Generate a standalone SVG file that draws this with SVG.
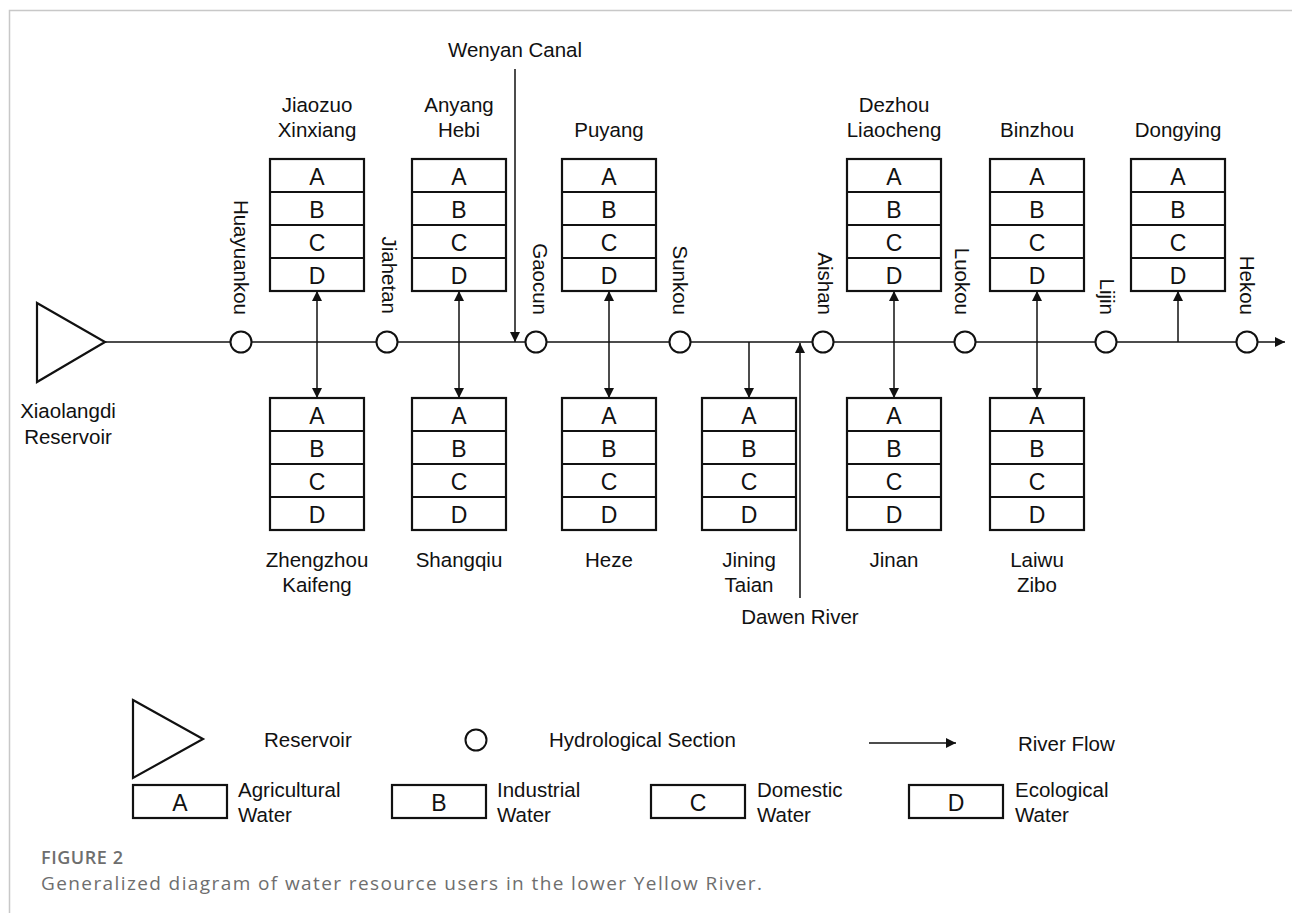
<svg xmlns="http://www.w3.org/2000/svg" width="1292" height="913" viewBox="0 0 1292 913">
  <style>
    .lbl { font-family: "Liberation Sans", Arial, sans-serif; font-size: 20.5px; fill: #111; }
    .mid { text-anchor: middle; }
    .end { text-anchor: end; }
    .cell { font-family: "Liberation Sans", Arial, sans-serif; font-size: 23px; fill: #111; text-anchor: middle; }
    .box { fill: #fff; stroke: #111; stroke-width: 2.2; }
    .div { stroke: #111; stroke-width: 2; }
    .sec { fill: #fff; stroke: #111; stroke-width: 2; }
    .flow { fill: none; stroke: #111; stroke-width: 1.5; }
    .res { fill: #fff; stroke: #111; stroke-width: 2.2; stroke-linejoin: miter; }
    .frame { stroke: #c8c8c8; stroke-width: 1.5; fill: none; }
    .cap { font-family: "Open Sans", "Noto Sans", sans-serif; fill: #6e6e6e; }
  </style>
  <defs>
    <marker id="head" viewBox="0 0 10 10" refX="10" refY="5" markerWidth="10" markerHeight="11" markerUnits="userSpaceOnUse" orient="auto-start-reverse">
      <path d="M0,0 L10,5 L0,10 z" fill="#111"/>
    </marker>
  </defs>

  <rect width="1292" height="913" fill="#fff"/>
  <!-- page frame -->
  <path class="frame" d="M9.5,913 V10.5 H1292"/>

  <!-- main river and tributary connectors -->
  <g id="connectors">
    <line class="flow" x1="105" y1="342" x2="1285" y2="342" marker-end="url(#head)"/>
    <!-- Wenyan Canal inflow -->
    <line class="flow" x1="515" y1="69" x2="515" y2="342" marker-end="url(#head)"/>
    <!-- Dawen River inflow -->
    <line class="flow" x1="800" y1="598" x2="800" y2="343" marker-end="url(#head)"/>
    <!-- two-way exchanges -->
    <line class="flow" x1="317" y1="291" x2="317" y2="398" marker-start="url(#head)" marker-end="url(#head)"/>
    <line class="flow" x1="459" y1="291" x2="459" y2="398" marker-start="url(#head)" marker-end="url(#head)"/>
    <line class="flow" x1="609" y1="291" x2="609" y2="398" marker-start="url(#head)" marker-end="url(#head)"/>
    <line class="flow" x1="894" y1="291" x2="894" y2="398" marker-start="url(#head)" marker-end="url(#head)"/>
    <line class="flow" x1="1037" y1="291" x2="1037" y2="398" marker-start="url(#head)" marker-end="url(#head)"/>
    <!-- one-way withdrawals -->
    <line class="flow" x1="749" y1="342" x2="749" y2="398" marker-end="url(#head)"/>
    <line class="flow" x1="1178" y1="342" x2="1178" y2="291" marker-end="url(#head)"/>
  </g>

  <!-- reservoir -->
  <g id="xiaolangdi">
    <path class="res" d="M37,303 L105,342 L37,382 Z"/>
    <text class="lbl mid" x="68" y="418">Xiaolangdi</text>
    <text class="lbl mid" x="68" y="444">Reservoir</text>
  </g>

  <!-- hydrological sections -->
  <g id="huayuankou"><circle class="sec" cx="241" cy="342" r="10.5"/><text class="lbl end" transform="translate(234,315) rotate(90)">Huayuankou</text></g>
  <g id="jiahetan"><circle class="sec" cx="387" cy="342" r="10.5"/><text class="lbl end" transform="translate(382,314) rotate(90)">Jiahetan</text></g>
  <g id="gaocun"><circle class="sec" cx="536" cy="342" r="10.5"/><text class="lbl end" transform="translate(533,315) rotate(90)">Gaocun</text></g>
  <g id="sunkou"><circle class="sec" cx="680" cy="342" r="10.5"/><text class="lbl end" transform="translate(673,315) rotate(90)">Sunkou</text></g>
  <g id="aishan"><circle class="sec" cx="823" cy="342" r="10.5"/><text class="lbl end" transform="translate(818,315) rotate(90)">Aishan</text></g>
  <g id="luokou"><circle class="sec" cx="965" cy="342" r="10.5"/><text class="lbl end" transform="translate(955,315) rotate(90)">Luokou</text></g>
  <g id="lijin"><circle class="sec" cx="1106" cy="342" r="10.5"/><text class="lbl end" transform="translate(1100,315) rotate(90)">Lijin</text></g>
  <g id="hekou"><circle class="sec" cx="1247" cy="342" r="10.5"/><text class="lbl end" transform="translate(1240,315) rotate(90)">Hekou</text></g>

  <!-- tributary labels -->
  <g id="wenyan-canal"><text class="lbl mid" x="515" y="57">Wenyan Canal</text></g>
  <g id="dawen-river"><text class="lbl mid" x="800" y="624">Dawen River</text></g>

  <!-- water users, north bank -->
  <g id="jiaozuo-xinxiang">
    <text class="lbl mid" x="317" y="112">Jiaozuo</text>
    <text class="lbl mid" x="317" y="137">Xinxiang</text>
    <rect class="box" x="270" y="159" width="94" height="132"/>
    <path class="div" d="M270,192H364M270,225H364M270,258H364"/>
    <text class="cell" x="317" y="185">A</text><text class="cell" x="317" y="218">B</text><text class="cell" x="317" y="251">C</text><text class="cell" x="317" y="284">D</text>
  </g>
  <g id="anyang-hebi">
    <text class="lbl mid" x="459" y="112">Anyang</text>
    <text class="lbl mid" x="459" y="137">Hebi</text>
    <rect class="box" x="412" y="159" width="94" height="132"/>
    <path class="div" d="M412,192H506M412,225H506M412,258H506"/>
    <text class="cell" x="459" y="185">A</text><text class="cell" x="459" y="218">B</text><text class="cell" x="459" y="251">C</text><text class="cell" x="459" y="284">D</text>
  </g>
  <g id="puyang">
    <text class="lbl mid" x="609" y="137">Puyang</text>
    <rect class="box" x="562" y="159" width="94" height="132"/>
    <path class="div" d="M562,192H656M562,225H656M562,258H656"/>
    <text class="cell" x="609" y="185">A</text><text class="cell" x="609" y="218">B</text><text class="cell" x="609" y="251">C</text><text class="cell" x="609" y="284">D</text>
  </g>
  <g id="dezhou-liaocheng">
    <text class="lbl mid" x="894" y="112">Dezhou</text>
    <text class="lbl mid" x="894" y="137">Liaocheng</text>
    <rect class="box" x="847" y="159" width="94" height="132"/>
    <path class="div" d="M847,192H941M847,225H941M847,258H941"/>
    <text class="cell" x="894" y="185">A</text><text class="cell" x="894" y="218">B</text><text class="cell" x="894" y="251">C</text><text class="cell" x="894" y="284">D</text>
  </g>
  <g id="binzhou">
    <text class="lbl mid" x="1037" y="137">Binzhou</text>
    <rect class="box" x="990" y="159" width="94" height="132"/>
    <path class="div" d="M990,192H1084M990,225H1084M990,258H1084"/>
    <text class="cell" x="1037" y="185">A</text><text class="cell" x="1037" y="218">B</text><text class="cell" x="1037" y="251">C</text><text class="cell" x="1037" y="284">D</text>
  </g>
  <g id="dongying">
    <text class="lbl mid" x="1178" y="137">Dongying</text>
    <rect class="box" x="1131" y="159" width="94" height="132"/>
    <path class="div" d="M1131,192H1225M1131,225H1225M1131,258H1225"/>
    <text class="cell" x="1178" y="185">A</text><text class="cell" x="1178" y="218">B</text><text class="cell" x="1178" y="251">C</text><text class="cell" x="1178" y="284">D</text>
  </g>

  <!-- water users, south bank -->
  <g id="zhengzhou-kaifeng">
    <rect class="box" x="270" y="398" width="94" height="132"/>
    <path class="div" d="M270,431H364M270,464H364M270,497H364"/>
    <text class="cell" x="317" y="424">A</text><text class="cell" x="317" y="457">B</text><text class="cell" x="317" y="490">C</text><text class="cell" x="317" y="523">D</text>
    <text class="lbl mid" x="317" y="567">Zhengzhou</text>
    <text class="lbl mid" x="317" y="592">Kaifeng</text>
  </g>
  <g id="shangqiu">
    <rect class="box" x="412" y="398" width="94" height="132"/>
    <path class="div" d="M412,431H506M412,464H506M412,497H506"/>
    <text class="cell" x="459" y="424">A</text><text class="cell" x="459" y="457">B</text><text class="cell" x="459" y="490">C</text><text class="cell" x="459" y="523">D</text>
    <text class="lbl mid" x="459" y="567">Shangqiu</text>
  </g>
  <g id="heze">
    <rect class="box" x="562" y="398" width="94" height="132"/>
    <path class="div" d="M562,431H656M562,464H656M562,497H656"/>
    <text class="cell" x="609" y="424">A</text><text class="cell" x="609" y="457">B</text><text class="cell" x="609" y="490">C</text><text class="cell" x="609" y="523">D</text>
    <text class="lbl mid" x="609" y="567">Heze</text>
  </g>
  <g id="jining-taian">
    <rect class="box" x="702" y="398" width="94" height="132"/>
    <path class="div" d="M702,431H796M702,464H796M702,497H796"/>
    <text class="cell" x="749" y="424">A</text><text class="cell" x="749" y="457">B</text><text class="cell" x="749" y="490">C</text><text class="cell" x="749" y="523">D</text>
    <text class="lbl mid" x="749" y="567">Jining</text>
    <text class="lbl mid" x="749" y="592">Taian</text>
  </g>
  <g id="jinan">
    <rect class="box" x="847" y="398" width="94" height="132"/>
    <path class="div" d="M847,431H941M847,464H941M847,497H941"/>
    <text class="cell" x="894" y="424">A</text><text class="cell" x="894" y="457">B</text><text class="cell" x="894" y="490">C</text><text class="cell" x="894" y="523">D</text>
    <text class="lbl mid" x="894" y="567">Jinan</text>
  </g>
  <g id="laiwu-zibo">
    <rect class="box" x="990" y="398" width="94" height="132"/>
    <path class="div" d="M990,431H1084M990,464H1084M990,497H1084"/>
    <text class="cell" x="1037" y="424">A</text><text class="cell" x="1037" y="457">B</text><text class="cell" x="1037" y="490">C</text><text class="cell" x="1037" y="523">D</text>
    <text class="lbl mid" x="1037" y="567">Laiwu</text>
    <text class="lbl mid" x="1037" y="592">Zibo</text>
  </g>

  <!-- legend -->
  <g id="legend">
    <path class="res" d="M133,700 L203,739 L133,778 Z"/>
    <text class="lbl" x="264" y="747">Reservoir</text>
    <circle class="sec" cx="476" cy="740" r="10.5"/>
    <text class="lbl" x="549" y="747">Hydrological Section</text>
    <line class="flow" x1="869" y1="743" x2="956" y2="743" marker-end="url(#head)"/>
    <text class="lbl" x="1018" y="751">River Flow</text>

    <rect class="box" x="133" y="785" width="94" height="33" stroke-width="2"/>
    <text class="cell" x="180" y="811">A</text>
    <text class="lbl" x="238" y="797">Agricultural</text>
    <text class="lbl" x="238" y="822">Water</text>

    <rect class="box" x="392" y="785" width="94" height="33" stroke-width="2"/>
    <text class="cell" x="439" y="811">B</text>
    <text class="lbl" x="497" y="797">Industrial</text>
    <text class="lbl" x="497" y="822">Water</text>

    <rect class="box" x="651" y="785" width="94" height="33" stroke-width="2"/>
    <text class="cell" x="698" y="811">C</text>
    <text class="lbl" x="757" y="797">Domestic</text>
    <text class="lbl" x="757" y="822">Water</text>

    <rect class="box" x="909" y="785" width="94" height="33" stroke-width="2"/>
    <text class="cell" x="956" y="811">D</text>
    <text class="lbl" x="1015" y="797">Ecological</text>
    <text class="lbl" x="1015" y="822">Water</text>
  </g>

  <!-- caption -->
  <g id="caption">
    <text class="cap" x="41" y="864" font-size="18" font-weight="600" textLength="82" lengthAdjust="spacing">FIGURE 2</text>
    <text class="cap" x="41" y="890" font-size="19" textLength="721" lengthAdjust="spacing">Generalized diagram of water resource users in the lower Yellow River.</text>
  </g>
</svg>
